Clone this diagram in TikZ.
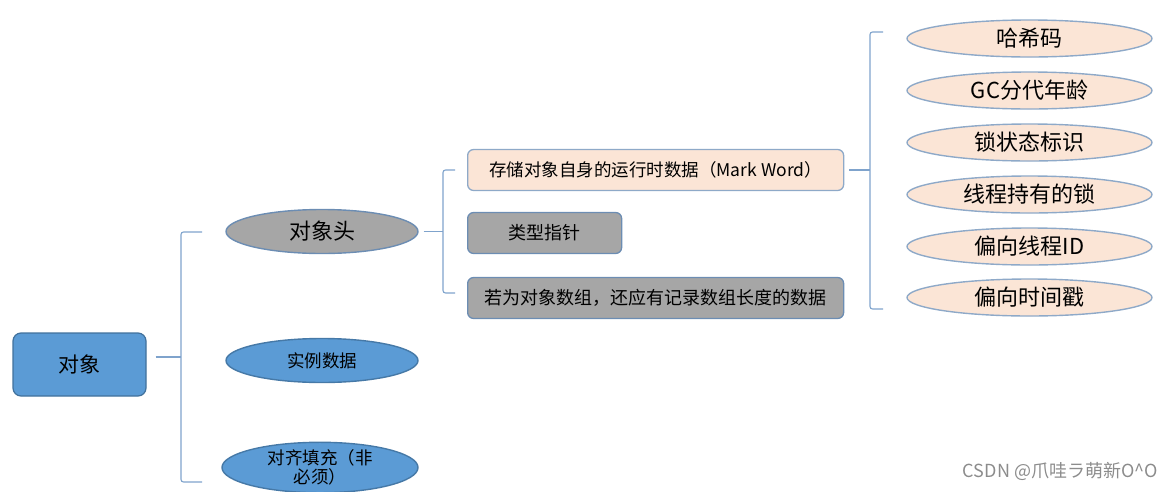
\documentclass[tikz,border=0pt]{standalone}
\usepackage{fontspec}
\setmainfont{Noto Sans CJK SC}
\usetikzlibrary{shapes.geometric}
\definecolor{bluefill}{HTML}{5B9BD5}
\definecolor{blueline}{HTML}{41719C}
\definecolor{greyfill}{HTML}{A6A6A6}
\definecolor{greyline}{HTML}{6C8DB3}
\definecolor{peach}{HTML}{FBE5D6}
\definecolor{peachline}{HTML}{8EA9C8}
\definecolor{bracec}{HTML}{7FA3CC}
\tikzset{
  rootbox/.style={draw=blueline, fill=bluefill, line width=1.2pt, rounded corners=8pt, minimum width=133pt, minimum height=63pt, inner sep=0pt, font=\fontsize{21}{24}\selectfont},
  ell/.style={ellipse, line width=1.4pt, inner sep=0pt, minimum width=192pt, minimum height=44pt},
  greyell/.style={ell, draw=greyline, fill=greyfill, font=\fontsize{22}{24}\selectfont},
  blueell/.style={ell, draw=blueline!80!bluefill, fill=bluefill, font=\fontsize{17.5}{20}\selectfont},
  peachell/.style={ellipse, draw=peachline, fill=peach, line width=1.4pt, inner sep=0pt, minimum width=245pt, minimum height=37pt, font=\fontsize{22}{24}\selectfont},
  rbox/.style={rectangle, line width=1.3pt, rounded corners=6pt, inner sep=0pt, minimum height=41pt, anchor=west},
  peachbox/.style={rbox, draw=peachline, fill=peach, minimum width=376pt, font=\fontsize{17.5}{19}\selectfont},
  greybox/.style={rbox, draw=greyline, fill=greyfill, font=\fontsize{18}{20}\selectfont},
  bracel/.style={draw=bracec, line width=1.1pt, rounded corners=2.5pt},
}
\begin{document}
\begin{tikzpicture}[x=1pt,y=-1pt]
\useasboundingbox (0,0) rectangle (1171,491);
% root
\node[rootbox] (root) at (79.5,364.5) {对象};
% level 1
\node[greyell] (head) at (322,231.5) {对象头};
\node[blueell] (inst) at (322,360.5) {实例数据};
\node[blueell, minimum width=196pt, minimum height=45pt, align=center, font=\fontsize{17.5}{19}\selectfont] (pad) at (320,467.5) {对齐填充（非\\必须）};
% level 2
\node[peachbox] (mw) at (467,170) {存储对象自身的运行时数据（Mark Word）};
\node[greybox, minimum width=154pt] (kp) at (467,233) {类型指针};
\node[greybox, minimum width=376pt] (arr) at (467,298) {若为对象数组，还应有记录数组长度的数据};
% level 3
\node[peachell] (e1) at (1029.5,38.5) {哈希码};
\node[peachell] (e2) at (1029.5,90.5) {GC分代年龄};
\node[peachell] (e3) at (1029.5,142.5) {锁状态标识};
\node[peachell] (e4) at (1029.5,194.5) {线程持有的锁};
\node[peachell] (e5) at (1029.5,246.5) {偏向线程ID};
\node[peachell] (e6) at (1029.5,297.5) {偏向时间戳};
% braces
\coordinate (b1t) at (202,232);
\coordinate (b1b) at (202,482);
\draw[bracel] (b1t) -- (181,232) -- (181,482) -- (b1b);
\draw[bracel] ([xshift=9pt]root.east |- 0,357) -- (181,357);
\coordinate (b2t) at (455,170);
\coordinate (b2b) at (455,293);
\draw[bracel] (b2t) -- (443,170) -- (443,293) -- (b2b);
\draw[bracel] ([xshift=5pt]head.east) -- (443,231.5);
\coordinate (b3t) at (883,32);
\coordinate (b3b) at (883,309);
\draw[bracel] (b3t) -- (870,32) -- (870,309) -- (b3b);
\draw[bracel] ([xshift=5pt]mw.east) -- (870,170);
% watermark
\node[anchor=east, text=black!45, font=\fontsize{18}{20}\selectfont, inner sep=0pt] (wm) at (1158,471) {CSDN @爪哇ラ萌新O\^{}O};
\end{tikzpicture}
\end{document}
